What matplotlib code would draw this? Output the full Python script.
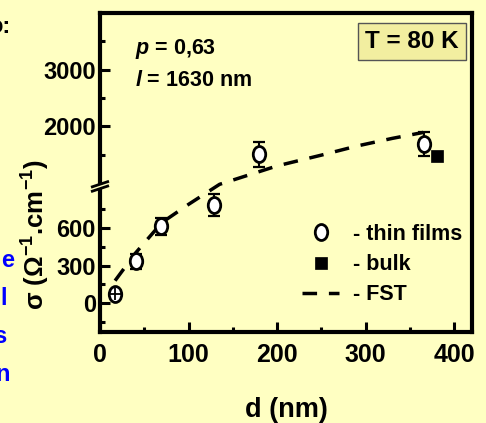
import numpy as np
import matplotlib
matplotlib.use('Agg')
import matplotlib.pyplot as plt
from matplotlib.path import Path
from matplotlib.transforms import Affine2D

plt.rcParams['font.family'] = ['Liberation Sans', 'DejaVu Sans']
plt.rcParams['font.weight'] = 'bold'
plt.rcParams['axes.labelweight'] = 'bold'
plt.rcParams['mathtext.fontset'] = 'custom'
plt.rcParams['mathtext.rm'] = 'Liberation Sans:bold'
plt.rcParams['mathtext.bf'] = 'Liberation Sans:bold'
plt.rcParams['mathtext.it'] = 'Liberation Sans:italic:bold'

# thin films (d in nm, sigma in Ohm^-1 cm^-1)
d_film = [17, 41, 69, 129, 180, 366]
s_film = [75, 335, 615, 785, 1510, 1690]
s_film_err = [50, 60, 67, 87, 220, 205]
d_film_err = [7, 0, 0, 0, 0, 0]

# bulk
d_bulk = [381]
s_bulk = [1480]

# FST curve
d_fst = [17, 40, 70, 100, 135, 165, 200, 250, 290, 330, 365]
s_fst = [180, 400, 645, 790, 980, 1130, 1305, 1495, 1655, 1790, 1895]

BG = '#FFFFC2'
BRK = 925.0   # where the y axis changes its scale
K = 0.4533    # scale factor above the break


def fwd(v):
    v = np.asarray(v, float)
    return np.where(v <= BRK, v, BRK + (v - BRK) * K)


def inv(t):
    t = np.asarray(t, float)
    return np.where(t <= BRK, t, BRK + (t - BRK) / K)


fig = plt.figure(figsize=(4.86, 4.23), dpi=100, facecolor=BG)
ax = fig.add_axes([100/486, 1-332/423, 372/486, 319/423], facecolor=BG)
ax.set_yscale('function', functions=(fwd, inv))
ax.set_xlim(0, 420)
ax.set_ylim(-230, 4000)

ell = Path.unit_circle().transformed(Affine2D().scale(0.78, 1.0))

# FST dashed line
ax.plot(d_fst, s_fst, color='k', lw=2.5, dashes=(4.2, 3.4), zorder=2,
        label='- FST')

# error bars behind the open circles
ax.errorbar(d_film[1:], s_film[1:], yerr=s_film_err[1:], fmt='none',
            ecolor='k', elinewidth=1.5, capsize=4, capthick=1.6, zorder=3)
ax.plot(d_film, s_film, ls='none', marker=ell, ms=11.5, mfc='white',
        mec='k', mew=2, zorder=4, label='- thin films')
# first point: cross drawn on top of the marker
ax.errorbar(d_film[:1], s_film[:1], yerr=s_film_err[:1], xerr=d_film_err[:1],
            fmt='none', ecolor='k', elinewidth=1.3, capsize=0, zorder=5)
ax.plot(d_bulk, s_bulk, ls='none', marker='s', ms=8.8, mfc='k', mec='k',
        mew=0.5, zorder=4, label='- bulk')

for sp in ax.spines.values():
    sp.set_linewidth(3)

ax.set_xticks([0, 100, 200, 300, 400])
ax.set_xticks([50, 150, 250, 350], minor=True)
ax.set_yticks([0, 300, 600, 2000, 3000])
ax.set_yticklabels(['0', '300', '600', '2000', '3000'])
ax.set_yticks([-150, 150, 450, 750, 1500, 2500, 3500], minor=True)
ax.yaxis.set_minor_formatter(plt.NullFormatter())
ax.tick_params(which='both', direction='in', width=2.2, colors='k')
ax.tick_params(which='major', length=7)
ax.tick_params(which='minor', length=3.5)
ax.tick_params(axis='x', labelsize=18, pad=8)
ax.tick_params(axis='y', labelsize=17, pad=3)

# axis break marks on the left spine
yb = ax.transAxes.inverted().transform(ax.transData.transform((0, BRK)))[1]
px = 1 / 372
py = 1 / 319
ax.plot([-9*px, 9*px], [yb - 2*py, yb + 4*py], color=BG, lw=4,
        transform=ax.transAxes, clip_on=False, zorder=6, solid_capstyle='butt')
for off in (-2.2, 2.2):
    ax.plot([-9*px, 9*px], [yb - 2*py + off*py, yb + 4*py + off*py],
            color='k', lw=2, transform=ax.transAxes, clip_on=False, zorder=7,
            solid_capstyle='butt')

ax.set_xlabel('d (nm)', fontsize=19.5)
ax.xaxis.set_label_coords(0.5, -0.205)
ax.xaxis.label.set_va('top')
ax.set_ylabel(r'σ (Ω$^{-1}$.cm$^{-1}$)', fontsize=18.5)
ax.yaxis.set_label_coords(-0.128, 0.304)

ax.text(135/486, 1-54/423, r'$p$ = 0,63', transform=fig.transFigure,
        fontsize=15.5, va='baseline', ha='left')
ax.text(135/486, 1-86/423, r'$l$ = 1630 nm', transform=fig.transFigure,
        fontsize=15.5, va='baseline', ha='left')
ax.text(412/486, 1-41.5/423, 'T = 80 K', transform=fig.transFigure,
        fontsize=17.5, ha='center', va='center',
        bbox=dict(boxstyle='square,pad=0.28', fc='#F2EEA0', ec='#555555', lw=1))

h, l = ax.get_legend_handles_labels()
order = [l.index('- thin films'), l.index('- bulk'), l.index('- FST')]
leg = ax.legend([h[i] for i in order], [l[i] for i in order],
                loc='upper left', bbox_to_anchor=((301.7-100)/372, (332-224)/319),
                frameon=False, fontsize=15.5, borderpad=0, borderaxespad=0,
                handlelength=1.75, handletextpad=0.65, labelspacing=0.42,
                numpoints=1)

# pieces of the slide text cut off at the left edge
fig.text(10/486, 1-33/423, 'o:', fontsize=17, ha='right', va='baseline', color='k')
for s, xr, yb_ in [('e', 14, 267), ('l', 7, 305), ('s', 6, 343), ('n', 10, 381)]:
    fig.text(xr/486, 1-yb_/423, s, fontsize=17, ha='right', va='baseline',
             color='#0000FF')

fig.savefig('out.png', dpi=100, facecolor=BG)
